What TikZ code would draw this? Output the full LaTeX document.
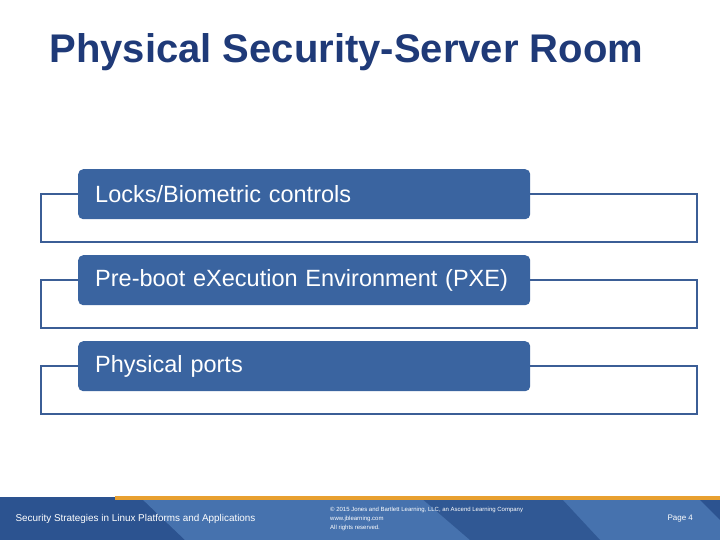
\documentclass[tikz,border=0pt]{standalone}
\usepackage{fontspec}
\setmainfont{Liberation Sans}
\definecolor{boxblue}{HTML}{3A64A0}
\definecolor{frameblue}{HTML}{3B5E96}
\definecolor{titleblue}{HTML}{1F3A78}
\definecolor{footdark}{HTML}{2C5390}
\definecolor{footlight}{HTML}{4672AE}
\definecolor{footorange}{HTML}{E8A030}
\begin{document}
\begin{tikzpicture}[x=1pt,y=-1pt,
  item/.style={fill=boxblue,rounded corners=5pt,minimum width=452pt,minimum height=50pt,anchor=north west,text=white,font=\fontsize{23.5}{26}\selectfont,align=left,text width=418pt,inner xsep=17pt},
  frame/.style={draw=frameblue,line width=2pt,fill=white}]
\useasboundingbox (0,0) rectangle (720,540);
\fill[white] (0,0) rectangle (720,540);
\node[anchor=west,text=titleblue,font=\bfseries\fontsize{40}{44}\selectfont] (title) at (46,52) {Physical Security-Server Room};
\foreach \i/\t in {0/{Locks/Biometric controls},1/{Pre-boot e\kern0ptXecution Environment (PXE)},2/{Physical ports}}{
  \draw[frame] (41,194+\i*86) rectangle (697,242+\i*86);
  \node[item] (b\i) at (78,169+\i*86) {\t};
}
% footer
\fill[footdark] (0,497) rectangle (720,540);
\fill[footlight] (140,497) -- (720,497) -- (720,540) -- (185,540) -- cycle;
\fill[footdark!85!footlight] (420,497) -- (560,497) -- (600,540) -- (470,540) -- cycle;
\fill[footorange] (115,496) rectangle (720,500);
\fill[footdark] (700,500) -- (720,500) -- (720,520) -- cycle;
\node[anchor=west,text=white,font=\fontsize{9.9}{11}\selectfont] (ft) at (12,519) {Security Strategies in Linux Platforms and Applications};
\node[anchor=north west,text=white,font=\fontsize{6}{9}\selectfont,align=left,inner sep=0pt] (copy) at (330,507) {© 2015 Jones and Bartlett Learning, LLC, an Ascend Learning Company\\www.jblearning.com\\All rights reserved.};
\node[anchor=west,text=white,font=\fontsize{8}{10}\selectfont] (pg) at (664,519) {Page 4};
\end{tikzpicture}
\end{document}
